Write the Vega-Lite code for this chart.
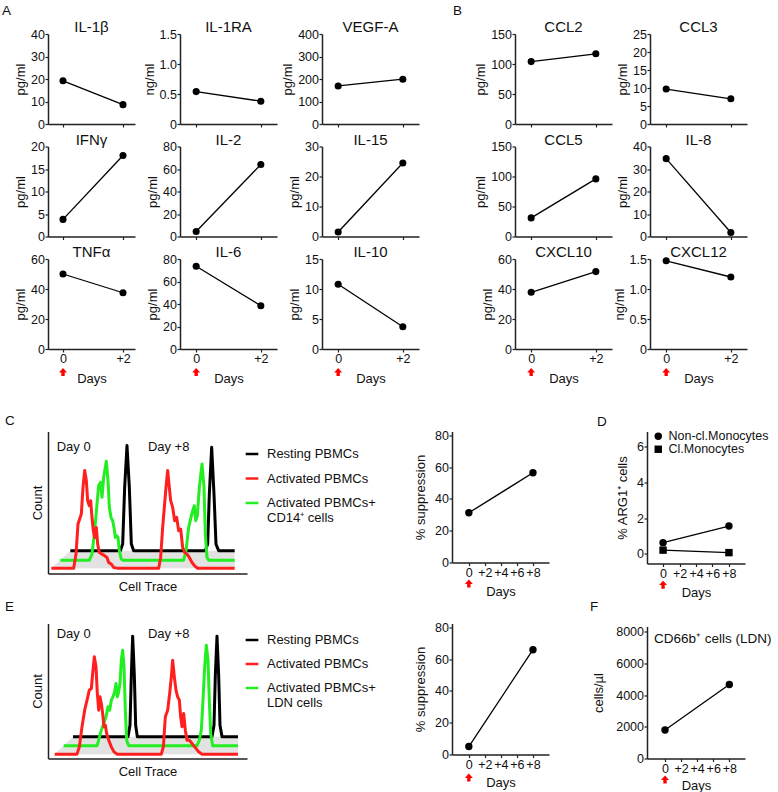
{
"$schema": "https://vega.github.io/schema/vega-lite/v6.json",
"padding": {"left": 2, "top": 4, "right": 0, "bottom": 0},
"config": {
  "font": "Liberation Sans",
  "view": {"stroke": null},
  "axis": {"grid": false, "domainColor": "#222", "domainWidth": 1.5, "tickColor": "#222", "tickSize": 3, "tickWidth": 1.2, "labelFontSize": 12.5, "labelColor": "#111", "labelFlush": false, "labelOverlap": false, "labelBound": false, "titleFontSize": 13, "titleFontWeight": "normal", "titleColor": "#111", "titlePadding": 3},
  "axisX": {"labelPadding": 0.5},
  "axisY": {"labelPadding": 0.5},
  "title": {"fontSize": 15, "fontWeight": "normal", "offset": -7, "anchor": "middle", "frame": "group", "color": "#111"},
  "legend": {"labelFontSize": 13, "labelColor": "#111", "padding": 0, "labelLimit": 250},
  "point": {"filled": true, "opacity": 1}
},
"datasets": {
  "histC": [
    {"series":"Resting PBMCs","trace":205,"count":68},{"series":"Resting PBMCs","trace":355,"count":68},{"series":"Resting PBMCs","trace":362,"count":88},{"series":"Resting PBMCs","trace":368,"count":258},{"series":"Resting PBMCs","trace":375,"count":383},{"series":"Resting PBMCs","trace":382,"count":258},{"series":"Resting PBMCs","trace":388,"count":88},{"series":"Resting PBMCs","trace":395,"count":68},{"series":"Resting PBMCs","trace":610,"count":68},{"series":"Resting PBMCs","trace":617,"count":88},{"series":"Resting PBMCs","trace":622,"count":238},{"series":"Resting PBMCs","trace":629,"count":378},{"series":"Resting PBMCs","trace":636,"count":238},{"series":"Resting PBMCs","trace":642,"count":88},{"series":"Resting PBMCs","trace":650,"count":68},{"series":"Resting PBMCs","trace":698,"count":68},
    {"series":"Activated PBMCs+ CD14⁺ cells","trace":175,"count":40},{"series":"Activated PBMCs+ CD14⁺ cells","trace":262,"count":40},{"series":"Activated PBMCs+ CD14⁺ cells","trace":270,"count":58},{"series":"Activated PBMCs+ CD14⁺ cells","trace":278,"count":128},{"series":"Activated PBMCs+ CD14⁺ cells","trace":285,"count":208},{"series":"Activated PBMCs+ CD14⁺ cells","trace":290,"count":263},{"series":"Activated PBMCs+ CD14⁺ cells","trace":296,"count":273},{"series":"Activated PBMCs+ CD14⁺ cells","trace":300,"count":228},{"series":"Activated PBMCs+ CD14⁺ cells","trace":305,"count":288},{"series":"Activated PBMCs+ CD14⁺ cells","trace":313,"count":336},{"series":"Activated PBMCs+ CD14⁺ cells","trace":318,"count":278},{"series":"Activated PBMCs+ CD14⁺ cells","trace":322,"count":198},{"series":"Activated PBMCs+ CD14⁺ cells","trace":327,"count":168},{"series":"Activated PBMCs+ CD14⁺ cells","trace":332,"count":158},{"series":"Activated PBMCs+ CD14⁺ cells","trace":336,"count":138},{"series":"Activated PBMCs+ CD14⁺ cells","trace":340,"count":108},{"series":"Activated PBMCs+ CD14⁺ cells","trace":344,"count":113},{"series":"Activated PBMCs+ CD14⁺ cells","trace":348,"count":108},{"series":"Activated PBMCs+ CD14⁺ cells","trace":352,"count":68},{"series":"Activated PBMCs+ CD14⁺ cells","trace":358,"count":43},{"series":"Activated PBMCs+ CD14⁺ cells","trace":362,"count":40},{"series":"Activated PBMCs+ CD14⁺ cells","trace":545,"count":40},{"series":"Activated PBMCs+ CD14⁺ cells","trace":552,"count":68},{"series":"Activated PBMCs+ CD14⁺ cells","trace":560,"count":138},{"series":"Activated PBMCs+ CD14⁺ cells","trace":567,"count":168},{"series":"Activated PBMCs+ CD14⁺ cells","trace":572,"count":188},{"series":"Activated PBMCs+ CD14⁺ cells","trace":577,"count":203},{"series":"Activated PBMCs+ CD14⁺ cells","trace":581,"count":158},{"series":"Activated PBMCs+ CD14⁺ cells","trace":586,"count":173},{"series":"Activated PBMCs+ CD14⁺ cells","trace":592,"count":258},{"series":"Activated PBMCs+ CD14⁺ cells","trace":600,"count":328},{"series":"Activated PBMCs+ CD14⁺ cells","trace":606,"count":258},{"series":"Activated PBMCs+ CD14⁺ cells","trace":610,"count":118},{"series":"Activated PBMCs+ CD14⁺ cells","trace":615,"count":48},{"series":"Activated PBMCs+ CD14⁺ cells","trace":620,"count":40},{"series":"Activated PBMCs+ CD14⁺ cells","trace":698,"count":40},
    {"series":"Activated PBMCs","trace":148,"count":16},{"series":"Activated PBMCs","trace":215,"count":16},{"series":"Activated PBMCs","trace":222,"count":58},{"series":"Activated PBMCs","trace":228,"count":148},{"series":"Activated PBMCs","trace":233,"count":163},{"series":"Activated PBMCs","trace":238,"count":178},{"series":"Activated PBMCs","trace":243,"count":258},{"series":"Activated PBMCs","trace":248,"count":308},{"series":"Activated PBMCs","trace":253,"count":278},{"series":"Activated PBMCs","trace":257,"count":218},{"series":"Activated PBMCs","trace":262,"count":203},{"series":"Activated PBMCs","trace":266,"count":218},{"series":"Activated PBMCs","trace":270,"count":168},{"series":"Activated PBMCs","trace":274,"count":128},{"series":"Activated PBMCs","trace":278,"count":108},{"series":"Activated PBMCs","trace":283,"count":138},{"series":"Activated PBMCs","trace":287,"count":88},{"series":"Activated PBMCs","trace":292,"count":63},{"series":"Activated PBMCs","trace":300,"count":58},{"series":"Activated PBMCs","trace":308,"count":53},{"series":"Activated PBMCs","trace":315,"count":48},{"series":"Activated PBMCs","trace":320,"count":33},{"series":"Activated PBMCs","trace":328,"count":28},{"series":"Activated PBMCs","trace":335,"count":18},{"series":"Activated PBMCs","trace":345,"count":16},{"series":"Activated PBMCs","trace":470,"count":16},{"series":"Activated PBMCs","trace":476,"count":48},{"series":"Activated PBMCs","trace":482,"count":138},{"series":"Activated PBMCs","trace":487,"count":198},{"series":"Activated PBMCs","trace":492,"count":258},{"series":"Activated PBMCs","trace":497,"count":308},{"series":"Activated PBMCs","trace":502,"count":258},{"series":"Activated PBMCs","trace":506,"count":218},{"series":"Activated PBMCs","trace":512,"count":198},{"series":"Activated PBMCs","trace":518,"count":158},{"series":"Activated PBMCs","trace":524,"count":168},{"series":"Activated PBMCs","trace":530,"count":128},{"series":"Activated PBMCs","trace":536,"count":133},{"series":"Activated PBMCs","trace":542,"count":78},{"series":"Activated PBMCs","trace":548,"count":63},{"series":"Activated PBMCs","trace":555,"count":58},{"series":"Activated PBMCs","trace":562,"count":48},{"series":"Activated PBMCs","trace":570,"count":33},{"series":"Activated PBMCs","trace":578,"count":23},{"series":"Activated PBMCs","trace":586,"count":16},{"series":"Activated PBMCs","trace":698,"count":16}
  ],
  "histE": [
    {"series":"Resting PBMCs","trace":213,"count":65},{"series":"Resting PBMCs","trace":378,"count":65},{"series":"Resting PBMCs","trace":384,"count":100},{"series":"Resting PBMCs","trace":388,"count":250},{"series":"Resting PBMCs","trace":392,"count":367},{"series":"Resting PBMCs","trace":397,"count":250},{"series":"Resting PBMCs","trace":401,"count":100},{"series":"Resting PBMCs","trace":406,"count":65},{"series":"Resting PBMCs","trace":630,"count":65},{"series":"Resting PBMCs","trace":636,"count":100},{"series":"Resting PBMCs","trace":640,"count":250},{"series":"Resting PBMCs","trace":645,"count":367},{"series":"Resting PBMCs","trace":650,"count":250},{"series":"Resting PBMCs","trace":654,"count":100},{"series":"Resting PBMCs","trace":660,"count":65},{"series":"Resting PBMCs","trace":708,"count":65},
    {"series":"Activated PBMCs+ LDN cells","trace":185,"count":38},{"series":"Activated PBMCs+ LDN cells","trace":285,"count":38},{"series":"Activated PBMCs+ LDN cells","trace":290,"count":55},{"series":"Activated PBMCs+ LDN cells","trace":298,"count":85},{"series":"Activated PBMCs+ LDN cells","trace":305,"count":105},{"series":"Activated PBMCs+ LDN cells","trace":312,"count":125},{"series":"Activated PBMCs+ LDN cells","trace":318,"count":155},{"series":"Activated PBMCs+ LDN cells","trace":323,"count":145},{"series":"Activated PBMCs+ LDN cells","trace":328,"count":175},{"series":"Activated PBMCs+ LDN cells","trace":333,"count":185},{"series":"Activated PBMCs+ LDN cells","trace":338,"count":200},{"series":"Activated PBMCs+ LDN cells","trace":342,"count":225},{"series":"Activated PBMCs+ LDN cells","trace":346,"count":185},{"series":"Activated PBMCs+ LDN cells","trace":350,"count":200},{"series":"Activated PBMCs+ LDN cells","trace":354,"count":225},{"series":"Activated PBMCs+ LDN cells","trace":358,"count":295},{"series":"Activated PBMCs+ LDN cells","trace":362,"count":325},{"series":"Activated PBMCs+ LDN cells","trace":366,"count":275},{"series":"Activated PBMCs+ LDN cells","trace":370,"count":145},{"series":"Activated PBMCs+ LDN cells","trace":374,"count":55},{"series":"Activated PBMCs+ LDN cells","trace":380,"count":38},{"series":"Activated PBMCs+ LDN cells","trace":585,"count":38},{"series":"Activated PBMCs+ LDN cells","trace":592,"count":55},{"series":"Activated PBMCs+ LDN cells","trace":598,"count":85},{"series":"Activated PBMCs+ LDN cells","trace":603,"count":175},{"series":"Activated PBMCs+ LDN cells","trace":608,"count":275},{"series":"Activated PBMCs+ LDN cells","trace":613,"count":340},{"series":"Activated PBMCs+ LDN cells","trace":618,"count":295},{"series":"Activated PBMCs+ LDN cells","trace":622,"count":175},{"series":"Activated PBMCs+ LDN cells","trace":626,"count":75},{"series":"Activated PBMCs+ LDN cells","trace":632,"count":38},{"series":"Activated PBMCs+ LDN cells","trace":708,"count":38},
    {"series":"Activated PBMCs","trace":158,"count":13},{"series":"Activated PBMCs","trace":225,"count":13},{"series":"Activated PBMCs","trace":232,"count":35},{"series":"Activated PBMCs","trace":240,"count":95},{"series":"Activated PBMCs","trace":248,"count":145},{"series":"Activated PBMCs","trace":255,"count":175},{"series":"Activated PBMCs","trace":262,"count":205},{"series":"Activated PBMCs","trace":268,"count":210},{"series":"Activated PBMCs","trace":272,"count":255},{"series":"Activated PBMCs","trace":277,"count":305},{"series":"Activated PBMCs","trace":282,"count":275},{"series":"Activated PBMCs","trace":286,"count":195},{"series":"Activated PBMCs","trace":290,"count":145},{"series":"Activated PBMCs","trace":294,"count":185},{"series":"Activated PBMCs","trace":298,"count":165},{"series":"Activated PBMCs","trace":302,"count":135},{"series":"Activated PBMCs","trace":306,"count":95},{"series":"Activated PBMCs","trace":310,"count":100},{"series":"Activated PBMCs","trace":314,"count":75},{"series":"Activated PBMCs","trace":320,"count":55},{"series":"Activated PBMCs","trace":328,"count":35},{"series":"Activated PBMCs","trace":336,"count":20},{"series":"Activated PBMCs","trace":345,"count":13},{"series":"Activated PBMCs","trace":478,"count":13},{"series":"Activated PBMCs","trace":484,"count":35},{"series":"Activated PBMCs","trace":490,"count":125},{"series":"Activated PBMCs","trace":497,"count":145},{"series":"Activated PBMCs","trace":503,"count":195},{"series":"Activated PBMCs","trace":508,"count":245},{"series":"Activated PBMCs","trace":512,"count":295},{"series":"Activated PBMCs","trace":517,"count":245},{"series":"Activated PBMCs","trace":522,"count":205},{"series":"Activated PBMCs","trace":527,"count":185},{"series":"Activated PBMCs","trace":532,"count":175},{"series":"Activated PBMCs","trace":536,"count":125},{"series":"Activated PBMCs","trace":540,"count":95},{"series":"Activated PBMCs","trace":545,"count":135},{"series":"Activated PBMCs","trace":550,"count":85},{"series":"Activated PBMCs","trace":555,"count":55},{"series":"Activated PBMCs","trace":562,"count":55},{"series":"Activated PBMCs","trace":570,"count":45},{"series":"Activated PBMCs","trace":578,"count":35},{"series":"Activated PBMCs","trace":590,"count":20},{"series":"Activated PBMCs","trace":600,"count":13},{"series":"Activated PBMCs","trace":708,"count":13}
  ],
  "hatchC": [{"trace":148,"count":16,"upper":16},{"trace":205,"count":16,"upper":68},{"trace":698,"count":16,"upper":68}],
  "hatchE": [{"trace":158,"count":13,"upper":13},{"trace":213,"count":13,"upper":65},{"trace":708,"count":13,"upper":65}]
},
"spacing": 28.5,
"resolve": {"scale": {"color": "independent", "shape": "independent"}},
"vconcat": [
 {
  "spacing": 34,
  "resolve": {"scale": {"color": "independent", "shape": "independent"}},
  "hconcat": [
   {
    "title": {"text": "A", "anchor": "start", "frame": "group", "fontSize": 13.5, "dx": -46, "offset": 2.2},
    "columns": 3, "bounds": "flush", "spacing": {"row": 22.5, "column": 45},
    "concat": [
     {"title": "IL-1β", "width": 87, "height": 90,
      "data": {"values": [{"day": 0, "value": 19.2}, {"day": 2, "value": 8.6}]},
      "encoding": {"x": {"field": "day", "type": "quantitative", "scale": {"domain": [-0.5, 2.4]}, "axis": {"values": [0, 2], "labels": false, "title": null}},
                   "y": {"field": "value", "type": "quantitative", "scale": {"domain": [0, 40]}, "axis": {"values": [0, 10, 20, 30, 40], "title": "pg/ml"}}},
      "layer": [{"mark": {"type": "line", "color": "black", "strokeWidth": 1.3}}, {"mark": {"type": "point", "color": "black", "size": 50}}]},
     {"title": "IL-1RA", "width": 97, "height": 90,
      "data": {"values": [{"day": 0, "value": 0.54}, {"day": 2, "value": 0.38}]},
      "encoding": {"x": {"field": "day", "type": "quantitative", "scale": {"domain": [-0.5, 2.5]}, "axis": {"values": [0, 2], "labels": false, "title": null}},
                   "y": {"field": "value", "type": "quantitative", "scale": {"domain": [0, 1.5]}, "axis": {"values": [0, 0.5, 1, 1.5], "labelExpr": "datum.value == 0 ? '0' : format(datum.value, '.1f')", "title": "ng/ml"}}},
      "layer": [{"mark": {"type": "line", "color": "black", "strokeWidth": 1.3}}, {"mark": {"type": "point", "color": "black", "size": 50}}]},
     {"title": "VEGF-A", "width": 97, "height": 90,
      "data": {"values": [{"day": 0, "value": 169}, {"day": 2, "value": 199}]},
      "encoding": {"x": {"field": "day", "type": "quantitative", "scale": {"domain": [-0.5, 2.5]}, "axis": {"values": [0, 2], "labels": false, "title": null}},
                   "y": {"field": "value", "type": "quantitative", "scale": {"domain": [0, 400]}, "axis": {"values": [0, 100, 200, 300, 400], "title": "pg/ml"}}},
      "layer": [{"mark": {"type": "line", "color": "black", "strokeWidth": 1.3}}, {"mark": {"type": "point", "color": "black", "size": 50}}]},
     {"title": "IFNγ", "width": 87, "height": 90,
      "data": {"values": [{"day": 0, "value": 3.8}, {"day": 2, "value": 18}]},
      "encoding": {"x": {"field": "day", "type": "quantitative", "scale": {"domain": [-0.5, 2.4]}, "axis": {"values": [0, 2], "labels": false, "title": null}},
                   "y": {"field": "value", "type": "quantitative", "scale": {"domain": [0, 20]}, "axis": {"values": [0, 5, 10, 15, 20], "title": "pg/ml"}}},
      "layer": [{"mark": {"type": "line", "color": "black", "strokeWidth": 1.3}}, {"mark": {"type": "point", "color": "black", "size": 50}}]},
     {"title": "IL-2", "width": 97, "height": 90,
      "data": {"values": [{"day": 0, "value": 4.5}, {"day": 2, "value": 64}]},
      "encoding": {"x": {"field": "day", "type": "quantitative", "scale": {"domain": [-0.5, 2.5]}, "axis": {"values": [0, 2], "labels": false, "title": null}},
                   "y": {"field": "value", "type": "quantitative", "scale": {"domain": [0, 80]}, "axis": {"values": [0, 20, 40, 60, 80], "title": "pg/ml"}}},
      "layer": [{"mark": {"type": "line", "color": "black", "strokeWidth": 1.3}}, {"mark": {"type": "point", "color": "black", "size": 50}}]},
     {"title": "IL-15", "width": 97, "height": 90,
      "data": {"values": [{"day": 0, "value": 1.5}, {"day": 2, "value": 24.5}]},
      "encoding": {"x": {"field": "day", "type": "quantitative", "scale": {"domain": [-0.5, 2.5]}, "axis": {"values": [0, 2], "labels": false, "title": null}},
                   "y": {"field": "value", "type": "quantitative", "scale": {"domain": [0, 30]}, "axis": {"values": [0, 10, 20, 30], "title": "pg/ml"}}},
      "layer": [{"mark": {"type": "line", "color": "black", "strokeWidth": 1.3}}, {"mark": {"type": "point", "color": "black", "size": 50}}]},
     {"title": "TNFα", "width": 87, "height": 90,
      "data": {"values": [{"day": 0, "value": 50}, {"day": 2, "value": 37.5}]},
      "encoding": {"x": {"field": "day", "type": "quantitative", "scale": {"domain": [-0.5, 2.4]}, "axis": {"values": [0, 2], "labelExpr": "datum.value == 0 ? '0' : '+2'", "title": "Days", "titlePadding": 7}}},
      "layer": [
        {"mark": {"type": "line", "color": "black", "strokeWidth": 1.3}, "encoding": {"y": {"field": "value", "type": "quantitative", "scale": {"domain": [0, 60]}, "axis": {"values": [0, 20, 40, 60], "title": "pg/ml"}}}},
        {"mark": {"type": "point", "color": "black", "size": 50}, "encoding": {"y": {"field": "value", "type": "quantitative", "scale": {"domain": [0, 60]}, "axis": {"values": [0, 20, 40, 60], "title": "pg/ml"}}}},
        {"data": {"values": [{"event": "start", "day": 0}]}, "mark": {"type": "point", "shape": "M0,-1L1,0.1L0.42,0.1L0.42,1L-0.42,1L-0.42,0.1L-1,0.1Z", "color": "#ff0000", "size": 64, "yOffset": 23}, "encoding": {"y": {"datum": 0, "type": "quantitative", "scale": {"domain": [0, 60]}, "axis": {"values": [0, 20, 40, 60], "title": "pg/ml"}}}}]},
     {"title": "IL-6", "width": 97, "height": 90,
      "data": {"values": [{"day": 0, "value": 73.5}, {"day": 2, "value": 38.5}]},
      "encoding": {"x": {"field": "day", "type": "quantitative", "scale": {"domain": [-0.5, 2.5]}, "axis": {"values": [0, 2], "labelExpr": "datum.value == 0 ? '0' : '+2'", "title": "Days", "titlePadding": 7}}},
      "layer": [
        {"mark": {"type": "line", "color": "black", "strokeWidth": 1.3}, "encoding": {"y": {"field": "value", "type": "quantitative", "scale": {"domain": [0, 80]}, "axis": {"values": [0, 20, 40, 60, 80], "title": "pg/ml"}}}},
        {"mark": {"type": "point", "color": "black", "size": 50}, "encoding": {"y": {"field": "value", "type": "quantitative", "scale": {"domain": [0, 80]}, "axis": {"values": [0, 20, 40, 60, 80], "title": "pg/ml"}}}},
        {"data": {"values": [{"event": "start", "day": 0}]}, "mark": {"type": "point", "shape": "M0,-1L1,0.1L0.42,0.1L0.42,1L-0.42,1L-0.42,0.1L-1,0.1Z", "color": "#ff0000", "size": 64, "yOffset": 23}, "encoding": {"y": {"datum": 0, "type": "quantitative", "scale": {"domain": [0, 80]}, "axis": {"values": [0, 20, 40, 60, 80], "title": "pg/ml"}}}}]},
     {"title": "IL-10", "width": 97, "height": 90,
      "data": {"values": [{"day": 0, "value": 10.8}, {"day": 2, "value": 3.7}]},
      "encoding": {"x": {"field": "day", "type": "quantitative", "scale": {"domain": [-0.5, 2.5]}, "axis": {"values": [0, 2], "labelExpr": "datum.value == 0 ? '0' : '+2'", "title": "Days", "titlePadding": 7}}},
      "layer": [
        {"mark": {"type": "line", "color": "black", "strokeWidth": 1.3}, "encoding": {"y": {"field": "value", "type": "quantitative", "scale": {"domain": [0, 15]}, "axis": {"values": [0, 5, 10, 15], "title": "pg/ml"}}}},
        {"mark": {"type": "point", "color": "black", "size": 50}, "encoding": {"y": {"field": "value", "type": "quantitative", "scale": {"domain": [0, 15]}, "axis": {"values": [0, 5, 10, 15], "title": "pg/ml"}}}},
        {"data": {"values": [{"event": "start", "day": 0}]}, "mark": {"type": "point", "shape": "M0,-1L1,0.1L0.42,0.1L0.42,1L-0.42,1L-0.42,0.1L-1,0.1Z", "color": "#ff0000", "size": 64, "yOffset": 23}, "encoding": {"y": {"datum": 0, "type": "quantitative", "scale": {"domain": [0, 15]}, "axis": {"values": [0, 5, 10, 15], "title": "pg/ml"}}}}]}
    ]
   },
   {
    "title": {"text": "B", "anchor": "start", "frame": "group", "fontSize": 13.5, "dx": -62, "offset": 2.2},
    "columns": 2, "bounds": "flush", "spacing": {"row": 22.5, "column": 38},
    "concat": [
     {"title": "CCL2", "width": 97, "height": 90,
      "data": {"values": [{"day": 0, "value": 104}, {"day": 2, "value": 117}]},
      "encoding": {"x": {"field": "day", "type": "quantitative", "scale": {"domain": [-0.5, 2.5]}, "axis": {"values": [0, 2], "labels": false, "title": null}},
                   "y": {"field": "value", "type": "quantitative", "scale": {"domain": [0, 150]}, "axis": {"values": [0, 50, 100, 150], "title": "pg/ml"}}},
      "layer": [{"mark": {"type": "line", "color": "black", "strokeWidth": 1.3}}, {"mark": {"type": "point", "color": "black", "size": 50}}]},
     {"title": "CCL3", "width": 97, "height": 90,
      "data": {"values": [{"day": 0, "value": 9.7}, {"day": 2, "value": 7}]},
      "encoding": {"x": {"field": "day", "type": "quantitative", "scale": {"domain": [-0.5, 2.5]}, "axis": {"values": [0, 2], "labels": false, "title": null}},
                   "y": {"field": "value", "type": "quantitative", "scale": {"domain": [0, 25]}, "axis": {"values": [0, 5, 10, 15, 20, 25], "title": "pg/ml"}}},
      "layer": [{"mark": {"type": "line", "color": "black", "strokeWidth": 1.3}}, {"mark": {"type": "point", "color": "black", "size": 50}}]},
     {"title": "CCL5", "width": 97, "height": 90,
      "data": {"values": [{"day": 0, "value": 31}, {"day": 2, "value": 96}]},
      "encoding": {"x": {"field": "day", "type": "quantitative", "scale": {"domain": [-0.5, 2.5]}, "axis": {"values": [0, 2], "labels": false, "title": null}},
                   "y": {"field": "value", "type": "quantitative", "scale": {"domain": [0, 150]}, "axis": {"values": [0, 50, 100, 150], "title": "pg/ml"}}},
      "layer": [{"mark": {"type": "line", "color": "black", "strokeWidth": 1.3}}, {"mark": {"type": "point", "color": "black", "size": 50}}]},
     {"title": "IL-8", "width": 97, "height": 90,
      "data": {"values": [{"day": 0, "value": 34.6}, {"day": 2, "value": 1.8}]},
      "encoding": {"x": {"field": "day", "type": "quantitative", "scale": {"domain": [-0.5, 2.5]}, "axis": {"values": [0, 2], "labels": false, "title": null}},
                   "y": {"field": "value", "type": "quantitative", "scale": {"domain": [0, 40]}, "axis": {"values": [0, 10, 20, 30, 40], "title": "pg/ml"}}},
      "layer": [{"mark": {"type": "line", "color": "black", "strokeWidth": 1.3}}, {"mark": {"type": "point", "color": "black", "size": 50}}]},
     {"title": "CXCL10", "width": 97, "height": 90,
      "data": {"values": [{"day": 0, "value": 37.8}, {"day": 2, "value": 51.6}]},
      "encoding": {"x": {"field": "day", "type": "quantitative", "scale": {"domain": [-0.5, 2.5]}, "axis": {"values": [0, 2], "labelExpr": "datum.value == 0 ? '0' : '+2'", "title": "Days", "titlePadding": 7}}},
      "layer": [
        {"mark": {"type": "line", "color": "black", "strokeWidth": 1.3}, "encoding": {"y": {"field": "value", "type": "quantitative", "scale": {"domain": [0, 60]}, "axis": {"values": [0, 20, 40, 60], "title": "pg/ml"}}}},
        {"mark": {"type": "point", "color": "black", "size": 50}, "encoding": {"y": {"field": "value", "type": "quantitative", "scale": {"domain": [0, 60]}, "axis": {"values": [0, 20, 40, 60], "title": "pg/ml"}}}},
        {"data": {"values": [{"event": "start", "day": 0}]}, "mark": {"type": "point", "shape": "M0,-1L1,0.1L0.42,0.1L0.42,1L-0.42,1L-0.42,0.1L-1,0.1Z", "color": "#ff0000", "size": 64, "yOffset": 23}, "encoding": {"y": {"datum": 0, "type": "quantitative", "scale": {"domain": [0, 60]}, "axis": {"values": [0, 20, 40, 60], "title": "pg/ml"}}}}]},
     {"title": "CXCL12", "width": 97, "height": 90,
      "data": {"values": [{"day": 0, "value": 1.47}, {"day": 2, "value": 1.2}]},
      "encoding": {"x": {"field": "day", "type": "quantitative", "scale": {"domain": [-0.5, 2.5]}, "axis": {"values": [0, 2], "labelExpr": "datum.value == 0 ? '0' : '+2'", "title": "Days", "titlePadding": 7}}},
      "layer": [
        {"mark": {"type": "line", "color": "black", "strokeWidth": 1.3}, "encoding": {"y": {"field": "value", "type": "quantitative", "scale": {"domain": [0, 1.5]}, "axis": {"values": [0, 0.5, 1, 1.5], "labelExpr": "datum.value == 0 ? '0' : format(datum.value, '.1f')", "title": "ng/ml"}}}},
        {"mark": {"type": "point", "color": "black", "size": 50}, "encoding": {"y": {"field": "value", "type": "quantitative", "scale": {"domain": [0, 1.5]}, "axis": {"values": [0, 0.5, 1, 1.5], "labelExpr": "datum.value == 0 ? '0' : format(datum.value, '.1f')", "title": "ng/ml"}}}},
        {"data": {"values": [{"event": "start", "day": 0}]}, "mark": {"type": "point", "shape": "M0,-1L1,0.1L0.42,0.1L0.42,1L-0.42,1L-0.42,0.1L-1,0.1Z", "color": "#ff0000", "size": 64, "yOffset": 23}, "encoding": {"y": {"datum": 0, "type": "quantitative", "scale": {"domain": [0, 1.5]}, "axis": {"values": [0, 0.5, 1, 1.5], "labelExpr": "datum.value == 0 ? '0' : format(datum.value, '.1f')", "title": "ng/ml"}}}}]}
    ]
   }
  ]
 },
 {
  "spacing": 41,
  "resolve": {"scale": {"color": "independent", "shape": "independent"}},
  "hconcat": [
   {
    "spacing": 1,
    "resolve": {"scale": {"color": "independent", "shape": "independent"}},
    "vconcat": [
     {
      "title": {"text": "C", "anchor": "start", "frame": "group", "fontSize": 13.5, "dx": -43, "offset": 1.5},
      "bounds": "flush", "spacing": 205,
      "resolve": {"scale": {"color": "independent", "shape": "independent"}},
      "hconcat": [
       {"width": 199, "height": 142,
        "encoding": {"x": {"field": "trace", "type": "quantitative", "scale": {"domain": [138, 735]}, "axis": {"title": "Cell Trace", "ticks": false, "labels": false, "titlePadding": 7}}},
        "layer": [
         {"data": {"name": "hatchC"}, "mark": {"type": "area", "color": "#e2e2e2"},
          "encoding": {"y": {"field": "count", "type": "quantitative", "scale": {"domain": [0, 425]}, "axis": {"title": "Count", "ticks": false, "labels": false, "titlePadding": 4}}, "y2": {"field": "upper"}}},
         {"data": {"name": "histC"}, "mark": {"type": "line", "strokeWidth": 3, "strokeJoin": "round"},
          "encoding": {"y": {"field": "count", "type": "quantitative", "scale": {"domain": [0, 425]}, "axis": {"title": "Count", "ticks": false, "labels": false, "titlePadding": 4}},
                       "color": {"field": "series", "type": "nominal",
                                 "scale": {"domain": ["Resting PBMCs", "Activated PBMCs", "Activated PBMCs+ CD14⁺ cells"], "range": ["#000000", "#ff1f1f", "#22ee22"]},
                                 "legend": {"title": null, "orient": "none", "legendX": 196, "legendY": 14.5, "symbolType": "stroke", "symbolStrokeWidth": 2.5, "symbolSize": 160, "labelOffset": 7, "rowPadding": 9.5,
                                            "labelExpr": "datum.label == 'Activated PBMCs+ CD14⁺ cells' ? ['Activated PBMCs+', 'CD14⁺ cells'] : datum.label"}}}},
         {"data": {"values": [{"label": "Day 0", "trace": 215}, {"label": "Day +8", "trace": 500}]}, "mark": {"type": "text", "fontSize": 13, "align": "center", "baseline": "middle", "color": "#111"},
          "encoding": {"y": {"datum": 378, "type": "quantitative", "scale": {"domain": [0, 425]}, "axis": {"title": "Count", "ticks": false, "labels": false, "titlePadding": 4}}, "text": {"field": "label"}}}
        ]},
       {"width": 97, "height": 131,
        "data": {"values": [{"day": 0, "suppression": 31.3}, {"day": 8, "suppression": 56.5}]},
        "encoding": {"x": {"field": "day", "type": "quantitative", "scale": {"domain": [-2.1, 10]}, "axis": {"values": [0, 2, 4, 6, 8], "labelExpr": "datum.value == 0 ? '0' : '+' + datum.value", "title": "Days", "titlePadding": 7}}},
        "layer": [
          {"mark": {"type": "line", "color": "black", "strokeWidth": 1.3}, "encoding": {"y": {"field": "suppression", "type": "quantitative", "scale": {"domain": [0, 82.5]}, "axis": {"values": [0, 20, 40, 60, 80], "title": "% suppression", "titlePadding": 7.5}}}},
          {"mark": {"type": "point", "color": "black", "size": 55}, "encoding": {"y": {"field": "suppression", "type": "quantitative", "scale": {"domain": [0, 82.5]}, "axis": {"values": [0, 20, 40, 60, 80], "title": "% suppression", "titlePadding": 7.5}}}},
          {"data": {"values": [{"event": "start", "day": 0}]}, "mark": {"type": "point", "shape": "M0,-1L1,0.1L0.42,0.1L0.42,1L-0.42,1L-0.42,0.1L-1,0.1Z", "color": "#ff0000", "size": 64, "yOffset": 21}, "encoding": {"y": {"datum": 0, "type": "quantitative", "scale": {"domain": [0, 82.5]}, "axis": {"values": [0, 20, 40, 60, 80], "title": "% suppression", "titlePadding": 7.5}}}}]}
      ]
     },
     {
      "title": {"text": "E", "anchor": "start", "frame": "group", "fontSize": 13.5, "dx": -43, "offset": 8.4},
      "bounds": "flush", "spacing": 205,
      "resolve": {"scale": {"color": "independent", "shape": "independent"}},
      "hconcat": [
       {"width": 199, "height": 135,
        "encoding": {"x": {"field": "trace", "type": "quantitative", "scale": {"domain": [138, 735]}, "axis": {"title": "Cell Trace", "ticks": false, "labels": false, "titlePadding": 7}}},
        "layer": [
         {"data": {"name": "hatchE"}, "mark": {"type": "area", "color": "#e2e2e2"},
          "encoding": {"y": {"field": "count", "type": "quantitative", "scale": {"domain": [0, 405]}, "axis": {"title": "Count", "ticks": false, "labels": false, "titlePadding": 4}}, "y2": {"field": "upper"}}},
         {"data": {"name": "histE"}, "mark": {"type": "line", "strokeWidth": 3, "strokeJoin": "round"},
          "encoding": {"y": {"field": "count", "type": "quantitative", "scale": {"domain": [0, 405]}, "axis": {"title": "Count", "ticks": false, "labels": false, "titlePadding": 4}},
                       "color": {"field": "series", "type": "nominal",
                                 "scale": {"domain": ["Resting PBMCs", "Activated PBMCs", "Activated PBMCs+ LDN cells"], "range": ["#000000", "#ff1f1f", "#22ee22"]},
                                 "legend": {"title": null, "orient": "none", "legendX": 196, "legendY": 8.5, "symbolType": "stroke", "symbolStrokeWidth": 2.5, "symbolSize": 160, "labelOffset": 7, "rowPadding": 9,
                                            "labelExpr": "datum.label == 'Activated PBMCs+ LDN cells' ? ['Activated PBMCs+', 'LDN cells'] : datum.label"}}}},
         {"data": {"values": [{"label": "Day 0", "trace": 215}, {"label": "Day +8", "trace": 500}]}, "mark": {"type": "text", "fontSize": 13, "align": "center", "baseline": "middle", "color": "#111"},
          "encoding": {"y": {"datum": 375, "type": "quantitative", "scale": {"domain": [0, 405]}, "axis": {"title": "Count", "ticks": false, "labels": false, "titlePadding": 4}}, "text": {"field": "label"}}}
        ]},
       {"width": 97, "height": 131,
        "data": {"values": [{"day": 0, "suppression": 5}, {"day": 8, "suppression": 66}]},
        "encoding": {"x": {"field": "day", "type": "quantitative", "scale": {"domain": [-2.1, 10]}, "axis": {"values": [0, 2, 4, 6, 8], "labelExpr": "datum.value == 0 ? '0' : '+' + datum.value", "title": "Days", "titlePadding": 6}}},
        "layer": [
          {"mark": {"type": "line", "color": "black", "strokeWidth": 1.3}, "encoding": {"y": {"field": "suppression", "type": "quantitative", "scale": {"domain": [0, 82.5]}, "axis": {"values": [0, 20, 40, 60, 80], "title": "% suppression", "titlePadding": 7.5}}}},
          {"mark": {"type": "point", "color": "black", "size": 55}, "encoding": {"y": {"field": "suppression", "type": "quantitative", "scale": {"domain": [0, 82.5]}, "axis": {"values": [0, 20, 40, 60, 80], "title": "% suppression", "titlePadding": 7.5}}}},
          {"data": {"values": [{"event": "start", "day": 0}]}, "mark": {"type": "point", "shape": "M0,-1L1,0.1L0.42,0.1L0.42,1L-0.42,1L-0.42,0.1L-1,0.1Z", "color": "#ff0000", "size": 64, "yOffset": 23}, "encoding": {"y": {"datum": 0, "type": "quantitative", "scale": {"domain": [0, 82.5]}, "axis": {"values": [0, 20, 40, 60, 80], "title": "% suppression", "titlePadding": 7.5}}}}]}
      ]
     }
    ]
   },
   {
    "spacing": 0,
    "resolve": {"scale": {"color": "independent", "shape": "independent"}},
    "vconcat": [
     {"title": {"text": "D", "anchor": "start", "frame": "group", "fontSize": 13.5, "dx": -50, "offset": 1.5},
      "width": 98, "height": 132,
      "data": {"values": [{"subset": "Non-cl.Monocytes", "day": 0, "percent": 0.62}, {"subset": "Non-cl.Monocytes", "day": 8, "percent": 1.55}, {"subset": "Cl.Monocytes", "day": 0, "percent": 0.2}, {"subset": "Cl.Monocytes", "day": 8, "percent": 0.06}]},
      "encoding": {"x": {"field": "day", "type": "quantitative", "scale": {"domain": [-1.95, 9.95]}, "axis": {"values": [0, 2, 4, 6, 8], "labelExpr": "datum.value == 0 ? '0' : '+' + datum.value", "title": "Days", "titlePadding": 7}}},
      "layer": [
        {"mark": {"type": "line", "color": "black", "strokeWidth": 1.3},
         "encoding": {"y": {"field": "percent", "type": "quantitative", "scale": {"domain": [-0.55, 6.85]}, "axis": {"values": [0, 2, 4, 6], "title": "% ARG1⁺ cells", "titlePadding": 7.5}}, "detail": {"field": "subset"}}},
        {"mark": {"type": "point", "color": "black", "size": 55},
         "encoding": {"y": {"field": "percent", "type": "quantitative", "scale": {"domain": [-0.55, 6.85]}, "axis": {"values": [0, 2, 4, 6], "title": "% ARG1⁺ cells", "titlePadding": 7.5}},
                      "shape": {"field": "subset", "type": "nominal", "scale": {"domain": ["Non-cl.Monocytes", "Cl.Monocytes"], "range": ["circle", "square"]},
                                "legend": {"title": null, "orient": "none", "legendX": 5, "legendY": -1.5, "symbolSize": 55, "symbolFillColor": "black", "symbolStrokeColor": "black", "labelOffset": 4, "rowPadding": -3, "labelFontSize": 12.5}}}},
        {"data": {"values": [{"event": "start", "day": 0}]}, "mark": {"type": "point", "shape": "M0,-1L1,0.1L0.42,0.1L0.42,1L-0.42,1L-0.42,0.1L-1,0.1Z", "color": "#ff0000", "size": 64, "yOffset": 31}, "encoding": {"y": {"datum": 0, "type": "quantitative", "scale": {"domain": [-0.55, 6.85]}, "axis": {"values": [0, 2, 4, 6], "title": "% ARG1⁺ cells", "titlePadding": 7.5}}}}
      ]},
     {
      "title": {"text": "F", "anchor": "start", "frame": "group", "fontSize": 13.5, "dx": -57, "offset": 12},
      "bounds": "flush",
      "vconcat": [
       {"title": {"text": "CD66b⁺ cells (LDN)", "anchor": "start", "frame": "group", "fontSize": 13.5, "dx": 7, "offset": -20},
        "width": 98, "height": 132,
        "data": {"values": [{"day": 0, "cells": 1800}, {"day": 8, "cells": 4660}]},
        "encoding": {"x": {"field": "day", "type": "quantitative", "scale": {"domain": [-2.24, 9.95]}, "axis": {"values": [0, 2, 4, 6, 8], "labelExpr": "datum.value == 0 ? '0' : '+' + datum.value", "title": "Days", "titlePadding": 5}}},
        "layer": [
          {"mark": {"type": "line", "color": "black", "strokeWidth": 1.3}, "encoding": {"y": {"field": "cells", "type": "quantitative", "scale": {"domain": [0, 8315]}, "axis": {"values": [0, 2000, 4000, 6000, 8000], "format": "d", "title": "cells/µl", "titlePadding": 10}}}},
          {"mark": {"type": "point", "color": "black", "size": 55}, "encoding": {"y": {"field": "cells", "type": "quantitative", "scale": {"domain": [0, 8315]}, "axis": {"values": [0, 2000, 4000, 6000, 8000], "format": "d", "title": "cells/µl", "titlePadding": 10}}}},
          {"data": {"values": [{"event": "start", "day": 0}]}, "mark": {"type": "point", "shape": "M0,-1L1,0.1L0.42,0.1L0.42,1L-0.42,1L-0.42,0.1L-1,0.1Z", "color": "#ff0000", "size": 64, "yOffset": 21}, "encoding": {"y": {"datum": 0, "type": "quantitative", "scale": {"domain": [0, 8315]}, "axis": {"values": [0, 2000, 4000, 6000, 8000], "format": "d", "title": "cells/µl", "titlePadding": 10}}}}
        ]}
      ]
     }
    ]
   }
  ]
 }
]
}
